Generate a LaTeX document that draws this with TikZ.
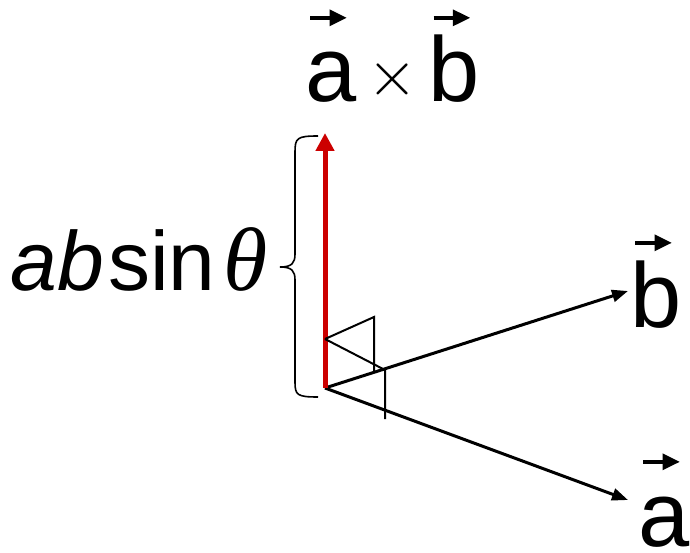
\documentclass[tikz,border=0pt]{standalone}
\usepackage{fix-cm}
\usepackage{fontspec}
\setmainfont{Liberation Sans}
\newfontfamily\serifit{Liberation Serif}
\usetikzlibrary{arrows.meta}
\definecolor{rojo}{RGB}{204,0,0}
\newcommand{\flecha}[1]{\rlap{\kern0.03em\raisebox{0.83em}{\tikz\draw[line width=0.045em,-{Triangle[length=0.19em,width=0.17em]}] (0,0)--(0.4em,0);}}#1}
\newcommand{\por}{\kern0.12em\raisebox{0.075em}{\scalebox{0.7}{$\times$}}\kern0.12em}
\tikzset{
  etiqueta/.style={inner sep=0pt, anchor=base west, font=\fontsize{46}{50}\selectfont},
  vector/.style={->, line width=1.5pt},
  marca/.style={line width=1pt},
  llave/.style={line width=0.8pt}
}

\begin{document}
\begin{tikzpicture}[>={Triangle[length=8pt,width=6pt]}, x=0.5pt, y=0.5pt]
  \useasboundingbox (0,0) rectangle (690,552);
  % origen y extremos
  \coordinate (O) at (325,164);
  \coordinate (c) at (325,419);
  \coordinate (b) at (628,261);
  \coordinate (a) at (628,52);
  % vectores a, b y a x b
  \draw[vector] (O) -- (b);
  \draw[vector] (O) -- (a);
  \draw[->, >={Triangle[length=9pt,width=9pt]}, line width=2.5pt, rojo] (O) -- (c);
  % etiquetas
  \node[etiqueta] (lb) at (630,225) {\flecha{b}};
  \node[etiqueta] (la) at (638,6) {\flecha{a}};
  \node[etiqueta] (lc) at (305,450) {\flecha{a}\por\flecha{b}};
  % angulos rectos
  \coordinate (P) at (325,213);
  \coordinate (Q1) at (374,235);
  \coordinate (R1) at (374,179);
  \coordinate (Q2) at (385,182);
  \coordinate (R2) at (385,133);
  \draw[marca] (P) -- (Q1) -- (R1);
  \draw[marca] (P) -- (Q2) -- (R2);
  % llave
  \coordinate (pico) at (280,285);
  \draw[llave] (318,416) .. controls (297,416) and (295,414) .. (295,400) -- (295,298)
    .. controls (295,289) and (292,285) .. (pico)
    .. controls (292,285) and (295,281) .. (295,272) -- (295,170)
    .. controls (295,157) and (297,155) .. (318,155);
  \node[etiqueta, font=\fontsize{42}{46}\selectfont] (lm) at (10,262)
    {\textit{ab}\kern0.05em sin\kern0.1em{\serifit\itshape\fontsize{45}{46}\selectfont θ}};
\end{tikzpicture}
\end{document}
